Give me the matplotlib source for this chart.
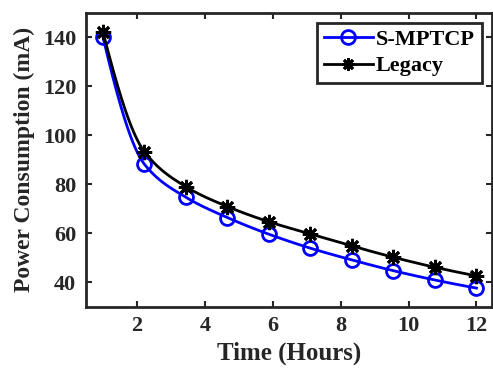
import numpy as np
import matplotlib
matplotlib.use('Agg')
import matplotlib.pyplot as plt

time_h = np.linspace(1, 12, 10)
smptcp = [140.2, 88.2, 74.7, 66.4, 59.6, 53.9, 49.1, 44.7, 40.9, 37.6]
legacy = [142.3, 93.3, 79.0, 70.9, 64.7, 59.7, 54.8, 50.2, 46.1, 42.6]
xticks = [2, 4, 6, 8, 10, 12]
yticks = [40, 60, 80, 100, 120, 140]


# 分段三次 Hermite (pchip) 平滑，只用于画线
def pchip(x, y, xs):
    x = np.asarray(x, float)
    y = np.asarray(y, float)
    h = np.diff(x)
    delta = np.diff(y) / h
    d = np.zeros_like(y)
    for k in range(1, len(x) - 1):
        if delta[k - 1] * delta[k] > 0:
            w1 = 2 * h[k] + h[k - 1]
            w2 = h[k] + 2 * h[k - 1]
            d[k] = (w1 + w2) / (w1 / delta[k - 1] + w2 / delta[k])
    d[0] = ((2 * h[0] + h[1]) * delta[0] - h[0] * delta[1]) / (h[0] + h[1])
    if np.sign(d[0]) != np.sign(delta[0]):
        d[0] = 0
    d[-1] = ((2 * h[-1] + h[-2]) * delta[-1] - h[-1] * delta[-2]) / (h[-1] + h[-2])
    if np.sign(d[-1]) != np.sign(delta[-1]):
        d[-1] = 0
    idx = np.clip(np.searchsorted(x, xs) - 1, 0, len(x) - 2)
    t = (xs - x[idx]) / h[idx]
    h00 = 2 * t**3 - 3 * t**2 + 1
    h10 = t**3 - 2 * t**2 + t
    h01 = -2 * t**3 + 3 * t**2
    h11 = t**3 - t**2
    return h00 * y[idx] + h10 * h[idx] * d[idx] + h01 * y[idx + 1] + h11 * h[idx] * d[idx + 1]


plt.rcParams['font.family'] = ['Liberation Serif', 'DejaVu Serif']
plt.rcParams['font.weight'] = 'bold'

fig = plt.figure(figsize=(4.93, 3.68), dpi=100)
ax = fig.add_axes([0.1744, 0.1666, 0.823, 0.798])

star = (8, 2, 0)  # 类似 MATLAB 的 '*' 标记
xs = np.linspace(time_h[0], time_h[-1], 400)
ax.plot(xs, pchip(time_h, smptcp, xs), color='blue', lw=2)
ax.plot(time_h, smptcp, 'o', color='blue', mfc='none', ms=10, mew=2)
ax.plot(xs, pchip(time_h, legacy, xs), color='black', lw=2)
ax.plot(time_h, legacy, marker=star, ls='none', color='black', ms=11, mew=2)

# 图例句柄：线加标记
h1, = ax.plot([], [], '-o', color='blue', mfc='none', ms=10, mew=2, lw=2, label='S-MPTCP')
h2, = ax.plot([], [], marker=star, ls='-', color='black', ms=9, mew=2, lw=2, label='Legacy')
leg = ax.legend(handles=[h1, h2], loc='upper right', fontsize=16, handlelength=2.2,
                handletextpad=0.15, borderpad=0.3, labelspacing=0.25,
                borderaxespad=0.45, fancybox=False, framealpha=1)
leg.get_frame().set_edgecolor('#262626')
leg.get_frame().set_linewidth(2)

ax.set_xlim(0.5, 12.45)
ax.set_ylim(30, 150)
ax.set_xticks(xticks)
ax.set_yticks(yticks)
ax.tick_params(direction='in', length=4, width=1.5, top=True, right=True,
               labelsize=16, colors='#262626', labelcolor='#262626', pad=7)
for s in ax.spines.values():
    s.set_linewidth(2)
    s.set_color('#262626')

ax.set_xlabel('Time (Hours)', fontsize=18, fontweight='bold', color='#262626', labelpad=4)
ax.set_ylabel('Power Consumption (mA)', fontsize=17, fontweight='bold', color='#262626', labelpad=6)

fig.savefig('out.png', dpi=100)
